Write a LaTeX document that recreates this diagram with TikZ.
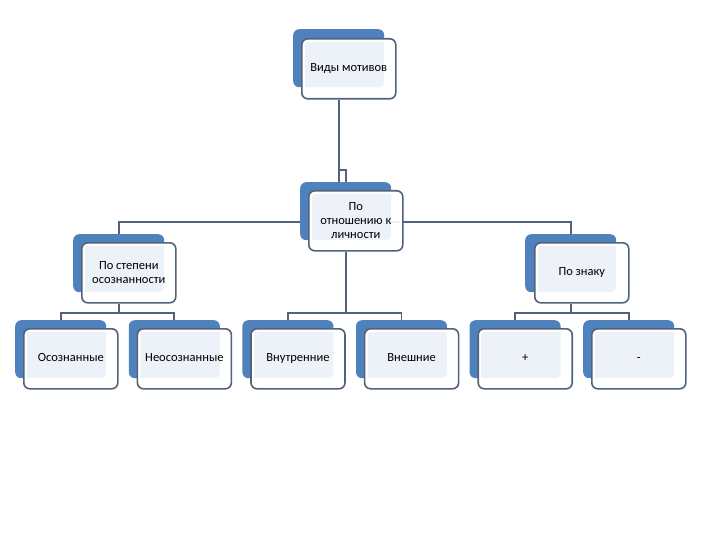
\documentclass[tikz,border=0pt]{standalone}
\usepackage{fontspec}
\setmainfont{Carlito}
\usetikzlibrary{calc}
\pgfdeclarelayer{background}
\pgfdeclarelayer{canvas}
\pgfsetlayers{canvas,background,main}
\definecolor{backblue}{RGB}{79,129,189}
\definecolor{edgecol}{RGB}{80,98,124}
\begin{document}
\begin{tikzpicture}[x=1pt,y=-1pt,
  back/.style={draw=none, fill=backblue, rounded corners=6pt, minimum width=91pt, minimum height=58pt, anchor=north west, inner sep=0pt},
  front/.style={draw=edgecol, line width=1.6pt, fill=white, fill opacity=0.9, text opacity=1, rounded corners=6pt,
    minimum width=94pt, minimum height=60pt, anchor=north west, inner sep=2pt, align=center,
    font=\fontsize{12.5}{14}\selectfont,
    path picture={\draw[white, line width=6pt, rounded corners=6pt] (path picture bounding box.north west) rectangle (path picture bounding box.south east);}},
  oneline/.style={text height=8.5pt, text depth=2.5pt},
  conn/.style={draw=edgecol, line width=1.9pt}]
\useasboundingbox (0,0) rectangle (720,540);
% level 1
\node[back] (b0) at (293,29) {};
\node[front, oneline] (f0) at (301,38) {Виды мотивов};
% level 2
\node[back] (b1) at (300,182) {};
\node[front] (f1) at (308,190) {По\\отношению к\\личности};
\node[back] (b2) at (73,234) {};
\node[front] (f2) at (81,242) {По степени\\осознанности};
\node[back] (b3) at (525,234) {};
\node[front, oneline] (f3) at (534,242) {По знаку};
% level 3
\node[back] (b4) at (15,320) {};
\node[front, oneline] (f4) at (23,328) {Осознанные};
\node[back] (b5) at (128.6,320) {};
\node[front, oneline] (f5) at (136.6,328) {Неосознанные};
\node[back] (b6) at (242.2,320) {};
\node[front, oneline] (f6) at (250.2,328) {Внутренние};
\node[back] (b7) at (355.8,320) {};
\node[front, oneline] (f7) at (363.8,328) {Внешние};
\node[back] (b8) at (469.4,320) {};
\node[front, oneline] (f8) at (477.4,328) {+};
\node[back] (b9) at (583,320) {};
\node[front, oneline] (f9) at (591,328) {-};
\coordinate (j0) at (0,170);
\coordinate (j1) at (0,222);
\coordinate (j2) at (0,313);
\begin{pgfonlayer}{canvas}
\fill[white] (0,0) rectangle (720,540);
\end{pgfonlayer}
\begin{pgfonlayer}{background}
\draw[conn] (b0.south |- f0.south) -- (b0.south |- j1);
\draw[conn] (b0.south |- j0) -- (b1.north |- j0) -- (b1.north);
\draw[conn] (b2.north) -- (b2.north |- j1) -- (b3.north |- j1) -- (b3.north);
\draw[conn] (b2.south |- f2.south) -- (b2.south |- j2);
\draw[conn] (b4.north) -- (b4.north |- j2) -- (b5.north |- j2) -- (b5.north);
\draw[conn] (b1.south |- f1.south) -- (b1.south |- j2);
\draw[conn] (b6.north) -- (b6.north |- j2) -- (b7.north |- j2) -- (b7.north);
\draw[conn] (b3.south |- f3.south) -- (b3.south |- j2);
\draw[conn] (b8.north) -- (b8.north |- j2) -- (b9.north |- j2) -- (b9.north);
\end{pgfonlayer}
\end{tikzpicture}
\end{document}
